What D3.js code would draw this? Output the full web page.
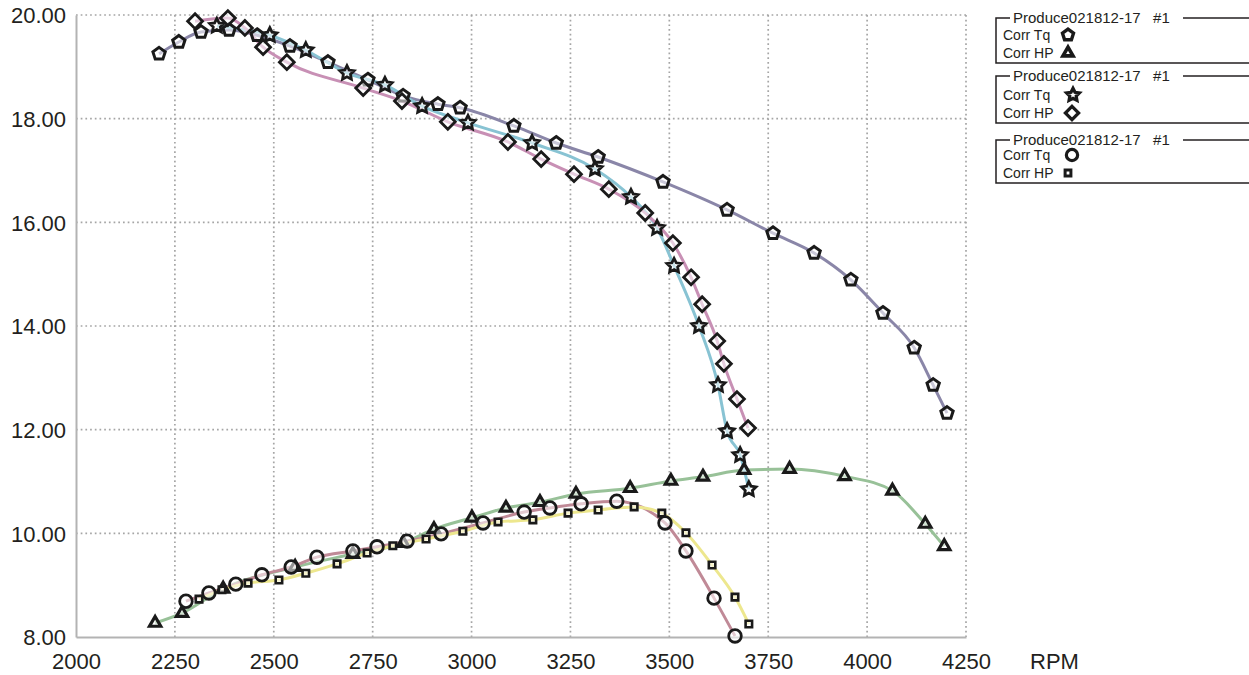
<!DOCTYPE html>
<html>
<head>
<meta charset="utf-8">
<script src="https://cdn.jsdelivr.net/npm/d3@7"></script>
<style>
  html, body { margin: 0; padding: 0; background: #fff; }
  svg { display: block; }
  text { font-family: "Liberation Sans", Arial, sans-serif; fill: #231f20; }
</style>
</head>
<body>
<svg id="chart" width="1249" height="675"></svg>
<script>
// ---- data ----
const xTicks = [2000, 2250, 2500, 2750, 3000, 3250, 3500, 3750, 4000, 4250];
const yTicks = [8, 10, 12, 14, 16, 18, 20];
const legendTitles = ["Produce021812-17   #1", "Produce021812-17   #1", "Produce021812-17   #1"];
const legendTq = "Corr Tq";
const legendHp = "Corr HP";

// Run 1 - Corr Tq (pentagon)
const rpmTq1 = [2210, 2260, 2316, 2387, 2458, 2541, 2637, 2738, 2827, 2915, 2971, 3107, 3214, 3320, 3484, 3646, 3762, 3866, 3959, 4040, 4119, 4167, 4202];
const valTq1 = [19.25, 19.48, 19.67, 19.71, 19.61, 19.40, 19.09, 18.75, 18.44, 18.28, 18.21, 17.86, 17.53, 17.26, 16.78, 16.24, 15.79, 15.41, 14.89, 14.25, 13.58, 12.86, 12.32];
// Run 1 - Corr HP (triangle)
const rpmHp1 = [2200, 2268, 2372, 2554, 2700, 2827, 2905, 3001, 3087, 3173, 3264, 3401, 3504, 3585, 3689, 3804, 3943, 4064, 4147, 4195];
const valHp1 = [8.27, 8.46, 8.93, 9.35, 9.60, 9.81, 10.08, 10.30, 10.49, 10.60, 10.76, 10.87, 11.01, 11.09, 11.22, 11.24, 11.10, 10.82, 10.18, 9.75];
// Run 2 - Corr Tq (star)
const rpmTq2 = [2356, 2490, 2581, 2685, 2781, 2875, 2991, 3153, 3312, 3403, 3469, 3512, 3575, 3623, 3646, 3679, 3701];
const valTq2 = [19.79, 19.61, 19.32, 18.88, 18.65, 18.24, 17.92, 17.53, 17.03, 16.49, 15.89, 15.16, 14.00, 12.86, 11.97, 11.51, 10.85];
// Run 2 - Corr HP (diamond)
const rpmHp2 = [2301, 2384, 2427, 2473, 2533, 2726, 2824, 2940, 3092, 3176, 3259, 3347, 3439, 3509, 3555, 3583, 3621, 3638, 3671, 3699];
const valHp2 = [19.88, 19.94, 19.75, 19.38, 19.09, 18.59, 18.34, 17.94, 17.55, 17.22, 16.93, 16.64, 16.18, 15.60, 14.94, 14.42, 13.71, 13.27, 12.59, 12.03];
// Run 3 - Corr Tq (circle)
const rpmTq3 = [2278, 2336, 2404, 2470, 2544, 2609, 2700, 2761, 2837, 2923, 3029, 3133, 3198, 3277, 3367, 3489, 3542, 3613, 3666];
const valTq3 = [8.69, 8.85, 9.02, 9.20, 9.35, 9.54, 9.66, 9.74, 9.85, 9.99, 10.20, 10.41, 10.49, 10.57, 10.62, 10.20, 9.66, 8.75, 8.02];
// Run 3 - Corr HP (square)
const rpmHp3 = [2311, 2369, 2435, 2513, 2581, 2660, 2736, 2801, 2885, 2978, 3067, 3155, 3244, 3320, 3411, 3481, 3542, 3608, 3666, 3701];
const valHp3 = [8.73, 8.91, 9.04, 9.10, 9.23, 9.41, 9.62, 9.76, 9.89, 10.04, 10.22, 10.26, 10.39, 10.45, 10.51, 10.39, 10.01, 9.39, 8.77, 8.25];

// ---- layout ----
const svg = d3.select("#chart");
const x = d3.scaleLinear().domain([2000, 4250]).range([76, 966]);
const y = d3.scaleLinear().domain([8, 20]).range([637, 15]);

// custom symbols
const pentagon = {
  draw(ctx, size) {
    const r = Math.sqrt(size / 2.378);
    for (let i = 0; i < 5; i++) {
      const a = -Math.PI / 2 + i * 2 * Math.PI / 5;
      const px = r * Math.cos(a), py = r * Math.sin(a);
      if (i === 0) ctx.moveTo(px, py); else ctx.lineTo(px, py);
    }
    ctx.closePath();
  }
};
const fatStar = {
  draw(ctx, size) {
    const R = Math.sqrt(size / 1.6), r = R * 0.5;
    for (let i = 0; i < 10; i++) {
      const a = -Math.PI / 2 + i * Math.PI / 5;
      const rr = i % 2 ? r : R;
      const px = rr * Math.cos(a), py = rr * Math.sin(a);
      if (i === 0) ctx.moveTo(px, py); else ctx.lineTo(px, py);
    }
    ctx.closePath();
  }
};
const diamondSq = {
  draw(ctx, size) {
    const r = Math.sqrt(size / 2);
    ctx.moveTo(0, -r); ctx.lineTo(r, 0); ctx.lineTo(0, r); ctx.lineTo(-r, 0); ctx.closePath();
  }
};

const series = [
  { rpm: rpmTq1, val: valTq1, color: "#8a86a8", sym: pentagon, size: 100, sw: 3 },
  { rpm: rpmHp1, val: valHp1, color: "#98c198", sym: d3.symbolTriangle, size: 55, sw: 3.2 },
  { rpm: rpmTq2, val: valTq2, color: "#88c3d3", sym: fatStar, size: 90, sw: 2.8 },
  { rpm: rpmHp2, val: valHp2, color: "#c890b5", sym: diamondSq, size: 110, sw: 2.8 },
  { rpm: rpmTq3, val: valTq3, color: "#c08a97", sym: d3.symbolCircle, size: 125, sw: 2.8 },
  { rpm: rpmHp3, val: valHp3, color: "#ede78e", sym: d3.symbolSquare, size: 42, sw: 2.6 }
];

// ---- grid ----
const grid = svg.append("g");
grid.selectAll("line.vg").data(xTicks.slice(1)).join("line")
  .attr("x1", d => x(d)).attr("x2", d => x(d))
  .attr("y1", y(20)).attr("y2", y(8))
  .attr("stroke", "#a5a5a5").attr("stroke-width", 1.7).attr("stroke-dasharray", "1.7,3");
grid.selectAll("line.hg").data(yTicks.slice(1)).join("line")
  .attr("x1", x(2000)).attr("x2", x(4250))
  .attr("y1", d => y(d)).attr("y2", d => y(d))
  .attr("stroke", "#a5a5a5").attr("stroke-width", 1.7).attr("stroke-dasharray", "1.7,3");

// axes
const xAxis = svg.append("g").attr("transform", `translate(0,${y(8)})`)
  .call(d3.axisBottom(x).tickValues(xTicks).tickSize(0).tickPadding(16).tickFormat(d3.format("d")));
const yAxis = svg.append("g").attr("transform", `translate(${x(2000)},0)`)
  .call(d3.axisLeft(y).tickValues(yTicks).tickSize(0).tickPadding(10).tickFormat(d3.format(".2f")));
[xAxis, yAxis].forEach(a => {
  a.select(".domain").attr("stroke", "#b3b3b3").attr("stroke-width", 2);
  a.selectAll("text").attr("font-size", 22).attr("font-family", "Liberation Sans, Arial, sans-serif").attr("fill", "#231f20");
});
yAxis.selectAll("text").attr("dy", "0.36em");
xAxis.selectAll("text").attr("dy", "0.71em");

svg.append("text").attr("x", 1030).attr("y", 669).attr("font-size", 22).text("RPM");

// ---- lines ----
const line = d3.line().curve(d3.curveMonotoneX).x(d => x(d[0])).y(d => y(d[1]));
series.forEach(s => {
  const pts = s.rpm.map((r, i) => [r, s.val[i]]);
  svg.append("path").datum(pts).attr("d", line)
    .attr("fill", "none").attr("stroke", s.color).attr("stroke-width", 3).attr("stroke-linejoin", "round");
});
// ---- markers ----
series.forEach(s => {
  const pts = s.rpm.map((r, i) => [r, s.val[i]]);
  svg.append("g").selectAll("path").data(pts).join("path")
    .attr("transform", d => `translate(${x(d[0])},${y(d[1])})`)
    .attr("d", d3.symbol(s.sym, s.size))
    .attr("fill", "#ffffff").attr("fill-opacity", 0.55)
    .attr("stroke", "#1a1a1a").attr("stroke-width", s.sw).attr("stroke-linejoin", "miter");
});

// ---- legend ----
const boxes = [
  { top: 18, bottom: 63, tqY: 35, hpY: 53, s1: series[0], s2: series[1], m1x: 1068, m2x: 1068 },
  { top: 76, bottom: 123, tqY: 95, hpY: 113, s1: series[2], s2: series[3], m1x: 1073, m2x: 1072 },
  { top: 140, bottom: 183, tqY: 155, hpY: 173, s1: series[4], s2: series[5], m1x: 1072, m2x: 1068 }
];
const lg = svg.append("g");
boxes.forEach((b, i) => {
  const g = lg.append("g");
  const bx = 996, ex = 1249;
  g.append("path")
    .attr("d", `M${bx + 14},${b.top} H${bx} V${b.bottom} H${ex}`)
    .attr("fill", "none").attr("stroke", "#231f20").attr("stroke-width", 1.5);
  g.append("line").attr("x1", 1183).attr("x2", ex).attr("y1", b.top).attr("y2", b.top)
    .attr("stroke", "#231f20").attr("stroke-width", 1.5);
  g.append("text").attr("x", 1013).attr("y", b.top + 5).attr("font-size", 15)
    .attr("xml:space", "preserve").style("white-space", "pre").text(legendTitles[i]);
  g.append("text").attr("x", 1003).attr("y", b.tqY + 5).attr("font-size", 14).text(legendTq);
  g.append("text").attr("x", 1003).attr("y", b.hpY + 5).attr("font-size", 14).text(legendHp);
  [[b.s1, b.m1x, b.tqY], [b.s2, b.m2x, b.hpY]].forEach(([s, mx, my]) => {
    g.append("path").attr("transform", `translate(${mx},${my})`)
      .attr("d", d3.symbol(s.sym, s.size * 0.8))
      .attr("fill", "#ffffff").attr("stroke", "#1a1a1a").attr("stroke-width", s.sw + 0.4);
  });
});
</script>
</body>
</html>
